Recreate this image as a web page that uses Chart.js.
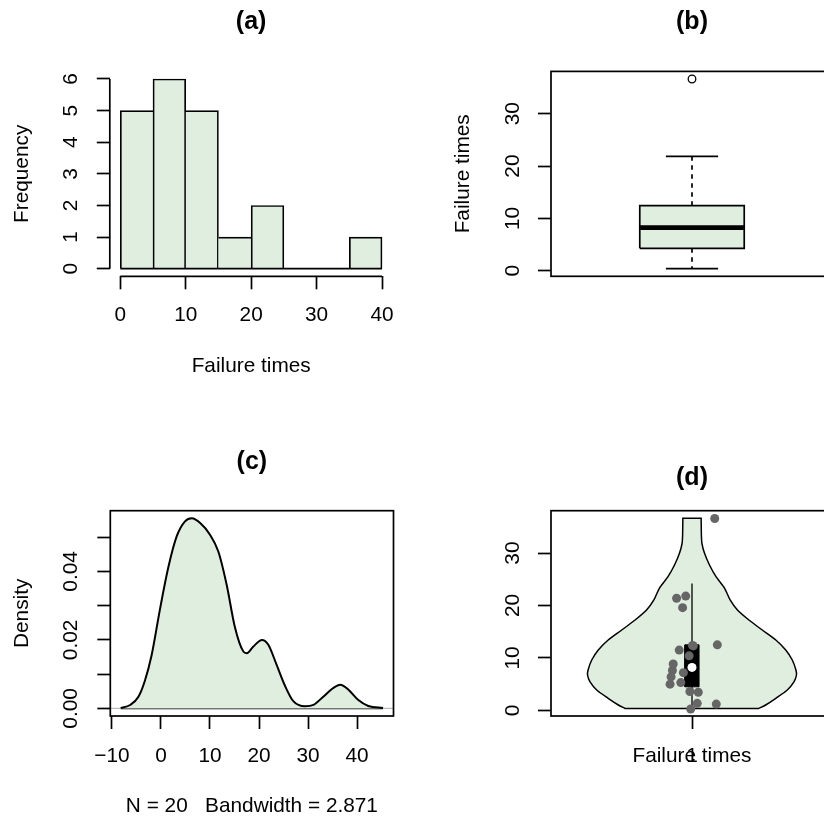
<!DOCTYPE html>
<html lang="en">
<head>
<meta charset="utf-8">
<title>Failure times</title>
<script src="https://cdn.jsdelivr.net/npm/chart.js@4.4.1/dist/chart.umd.min.js"></script>
<style>
  html, body { margin: 0; padding: 0; background: #ffffff; overflow: hidden; }
  body { position: relative; width: 824px; height: 819px; }
  canvas { position: absolute; }
</style>
</head>
<body>
<canvas id="histPanel" width="412" height="410" style="left:0px;top:0px"></canvas>
<canvas id="boxPanel" width="480" height="410" style="left:412px;top:0px"></canvas>
<canvas id="densityPanel" width="412" height="410" style="left:0px;top:409px"></canvas>
<canvas id="violinPanel" width="480" height="410" style="left:412px;top:409px"></canvas>
<script>
// ---------------- data ----------------
// (a) histogram of failure times, 5-unit bins
const binEdges   = [0, 5, 10, 15, 20, 25, 30, 35, 40];
const binCounts  = [5, 6, 5, 1, 2, 0, 0, 1];
const histXTicks = [0, 10, 20, 30, 40];
const histYTicks = [0, 1, 2, 3, 4, 5, 6];

// (b) box plot summary: lower whisker, lower hinge, median, upper hinge, upper whisker
const boxStats    = [0.38, 4.28, 8.22, 12.43, 21.87];
const boxOutliers = [36.65];
const timeTicks   = [0, 10, 20, 30];

// (c) kernel density estimate
const densityX = [-8.2, -6.3, -4.6, -3.3, -1.9, -0.2, 1.5, 3.2, 4.9, 6.3, 8.0, 10.0, 11.7, 13.4, 15.1, 16.8,
                  17.5, 18.8, 20.6, 21.9, 23.6, 25.3, 27.0, 29.4, 31.1, 33.1, 35.2, 36.6, 38.2, 40.2, 42.3, 45.3];
const densityY = [0.0001, 0.0010, 0.0034, 0.0080, 0.0156, 0.0290, 0.0412, 0.0502, 0.0546, 0.0555, 0.0541,
                  0.0507, 0.0458, 0.0361, 0.0236, 0.0166, 0.0161, 0.0180, 0.0200, 0.0186, 0.0127, 0.0066,
                  0.0021, 0.0006, 0.0010, 0.0034, 0.0060, 0.0069, 0.0055, 0.0025, 0.0007, 0.0001];
const densityXTicks  = [-10, 0, 10, 20, 30, 40];
const densityYTicks  = [0, 0.01, 0.02, 0.03, 0.04, 0.05];
const densityYLabels = ['0.00', '', '0.02', '', '0.04', ''];
const densityNote    = 'N = 20   Bandwidth = 2.871';

// (d) violin: failure time and half width of the violin at that time
const violinAt = [0.38, 1.03, 2.31, 3.89, 5.47, 6.75, 7.71, 9.61, 11.52, 13.43, 15.33,
                  17.24, 19.15, 21.06, 23.29, 25.50, 27.73, 29.96, 31.87, 33.45, 36.64];
const violinHalfWidth = [0.257, 0.282, 0.321, 0.365, 0.391, 0.400, 0.398, 0.384, 0.359, 0.321, 0.269,
                         0.218, 0.174, 0.146, 0.125, 0.092, 0.067, 0.048, 0.038, 0.036, 0.035];
const violinQuartiles = [4.5, 12.5];
const violinMedian    = 8.2;
const violinWhiskers  = [0.38, 24.2];
const violinXTicks    = [1];

// individual failure times and their horizontal jitter
const failureTimes = [36.6, 21.4, 21.8, 19.6, 12.5, 12.3, 12.4, 11.5, 10.4, 8.85,
                      7.6, 7.2, 6.4, 5.0, 5.3, 3.6, 3.45, 1.35, 1.2, 0.27];
const jitterX      = [1.087, 0.941, 0.976, 0.964, 1.097, 1.005, 1.002, 0.951, 0.989, 0.928,
                      0.925, 0.967, 0.920, 0.916, 0.957, 0.992, 1.024, 1.020, 1.093, 0.995];

// ---------------- styling ----------------
const FONT_FAMILY = '"Liberation Sans", Arial, Helvetica, sans-serif';
const FONT_SIZE = 20.8;
const TITLE_SIZE = 25;
const LINE_H = FONT_SIZE * 1.2;
const TICK_LEN = 13;
const LINE_W = 1.7;
const FILL = '#E0EEE0';
const INK = '#000000';
const POINT_GREY = '#666666';

Chart.defaults.font.family = FONT_FAMILY;
Chart.defaults.font.size = FONT_SIZE;
Chart.defaults.color = INK;
Chart.defaults.animation = false;
Chart.defaults.responsive = false;
Chart.defaults.events = [];
Chart.defaults.plugins.legend.display = false;
Chart.defaults.plugins.tooltip.enabled = false;

const measure = document.createElement('canvas').getContext('2d');
function widestLabel(labels) {
  measure.font = FONT_SIZE + 'px ' + FONT_FAMILY;
  return Math.max(...labels.map(l => measure.measureText(l).width));
}
// R-style axis range: data range widened by 4% on each side
function extend4(lo, hi) {
  const d = 0.04 * (hi - lo);
  return [lo - d, hi + d];
}
const fmt = v => String(v).replace('-', '\u2212');

function tickGrid() {
  return { display: true, drawOnChartArea: false, drawTicks: true, tickLength: TICK_LEN,
           tickWidth: LINE_W, tickColor: INK, offset: false };
}

function leftAxis(o) {
  return {
    type: 'linear', position: 'left', min: o.range[0], max: o.range[1], bounds: 'data',
    afterFit: s => { s.width = o.width; },
    afterBuildTicks: s => { s.ticks = o.ticks.map(v => ({ value: v })); },
    border: { display: false },
    grid: tickGrid(),
    ticks: {
      autoSkip: false, minRotation: 90, maxRotation: 90, crossAlign: 'center',
      padding: o.labelOffset - TICK_LEN - widestLabel(o.labels) / 2,
      callback: (v, i) => o.labels[i]
    },
    title: o.title
      ? { display: true, text: o.title, padding: { top: o.titleOffset - LINE_H / 2, bottom: 0 } }
      : { display: false }
  };
}

function bottomAxis(o) {
  return {
    type: 'linear', position: 'bottom', min: o.range[0], max: o.range[1], bounds: 'data', offset: false,
    afterFit: s => { s.height = o.height; },
    afterBuildTicks: s => { s.ticks = o.ticks.map(v => ({ value: v })); },
    border: { display: false },
    grid: tickGrid(),
    ticks: {
      autoSkip: false, minRotation: 0, maxRotation: 0,
      padding: o.labelOffset - TICK_LEN - LINE_H / 2,
      callback: (v, i) => o.labels[i]
    },
    title: { display: true, text: o.title,
             padding: { top: 0, bottom: Math.max(0, o.titleOffset - LINE_H / 2) } }
  };
}

function panelTitle(text, centerY, areaTop) {
  const lh = TITLE_SIZE * 1.2;
  const top = centerY - lh / 2;
  return { display: true, text, fullSize: false, color: INK,
           font: { size: TITLE_SIZE, weight: 'bold' },
           padding: { top, bottom: areaTop - top - lh } };
}

// box drawn round the plotting region
const plotFrame = {
  id: 'plotFrame',
  afterDatasetsDraw(chart) {
    const { ctx, chartArea: a } = chart;
    ctx.save();
    ctx.strokeStyle = INK;
    ctx.lineWidth = LINE_W;
    ctx.strokeRect(a.left, a.top, a.right - a.left, a.bottom - a.top);
    ctx.restore();
  }
};

// axis lines that run only from the first to the last tick
const tickSpanAxes = {
  id: 'tickSpanAxes',
  afterDraw(chart) {
    const { ctx, chartArea: a, scales: { x, y } } = chart;
    const px = v => x.getPixelForValue(v), py = v => y.getPixelForValue(v);
    ctx.save();
    ctx.strokeStyle = INK;
    ctx.lineWidth = LINE_W;
    ctx.beginPath();
    ctx.moveTo(px(x.ticks[0].value), a.bottom);
    ctx.lineTo(px(x.ticks[x.ticks.length - 1].value), a.bottom);
    ctx.moveTo(a.left, py(y.ticks[0].value));
    ctx.lineTo(a.left, py(y.ticks[y.ticks.length - 1].value));
    ctx.stroke();
    ctx.restore();
  }
};

const segment = { showLine: true, pointRadius: 0, borderColor: INK, borderWidth: LINE_W, fill: false };
const line2 = (x0, y0, x1, y1) => [{ x: x0, y: y0 }, { x: x1, y: y1 }];
const rectPath = (x0, x1, y0, y1) =>
  [{ x: x0, y: y0 }, { x: x1, y: y0 }, { x: x1, y: y1 }, { x: x0, y: y1 }, { x: x0, y: y0 }];

// ---------------- (a) histogram ----------------
const histMids = binCounts.map((_, i) => (binEdges[i] + binEdges[i + 1]) / 2);
new Chart(document.getElementById('histPanel'), {
  type: 'bar',
  data: {
    datasets: [
      { type: 'line', ...segment,
        data: line2(binEdges[0], 0, binEdges[binEdges.length - 1], 0), order: 0 },
      { type: 'bar', order: 1,
        data: binCounts.map((c, i) => ({ x: histMids[i], y: c })),
        backgroundColor: FILL, borderColor: INK, borderSkipped: false,
        barPercentage: 1, categoryPercentage: 1,
        // a shared edge is drawn once, by the taller of the two neighbouring bars
        borderWidth: ctx => {
          if (ctx.type !== 'data') return LINE_W;
          const i = ctx.dataIndex, c = binCounts[i];
          return {
            top: LINE_W, bottom: 0,
            left: (i > 0 && binCounts[i - 1] >= c) ? 0 : LINE_W,
            right: (i < binCounts.length - 1 && binCounts[i + 1] > c) ? 0 : LINE_W
          };
        } }
    ]
  },
  options: {
    devicePixelRatio: 1,
    layout: { padding: { left: 0, top: 0, right: 19.5, bottom: 0 } },
    plugins: { title: panelTitle('(a)', 21.7, 71.4) },
    scales: {
      x: bottomAxis({ range: extend4(binEdges[0], binEdges[binEdges.length - 1]),
                      ticks: histXTicks, labels: histXTicks.map(fmt),
                      height: 410 - 276.3, labelOffset: 39.4,
                      title: 'Failure times', titleOffset: 410 - 366.7 }),
      y: leftAxis({ range: extend4(0, Math.max(...binCounts)),
                    ticks: histYTicks, labels: histYTicks.map(fmt),
                    width: 109.8, labelOffset: 109.8 - 71.7,
                    title: 'Frequency', titleOffset: 22.7 })
    }
  },
  plugins: [tickSpanAxes]
});

// ---------------- (b) box plot ----------------
const [lowW, lowH, med, upH, highW] = boxStats;
const BOX_HALF = 0.2, CAP_HALF = 0.1;
new Chart(document.getElementById('boxPanel'), {
  type: 'scatter',
  data: {
    datasets: [
      { ...segment, showLine: false, order: 0,
        data: boxOutliers.map(v => ({ x: 1, y: v })),
        pointRadius: 3.8, pointBackgroundColor: 'rgba(0,0,0,0)',
        pointBorderColor: INK, pointBorderWidth: 1.3 },
      { ...segment, order: 1, borderWidth: 4.7, data: line2(1 - BOX_HALF, med, 1 + BOX_HALF, med) },
      { ...segment, order: 2, fill: 'shape', backgroundColor: FILL, borderJoinStyle: 'miter',
        data: rectPath(1 - BOX_HALF, 1 + BOX_HALF, lowH, upH) },
      { ...segment, order: 3, borderDash: [4.5, 4.5], data: line2(1, upH, 1, highW) },
      { ...segment, order: 3, borderDash: [4.5, 4.5], data: line2(1, lowH, 1, lowW) },
      { ...segment, order: 3, data: line2(1 - CAP_HALF, highW, 1 + CAP_HALF, highW) },
      { ...segment, order: 3, data: line2(1 - CAP_HALF, lowW, 1 + CAP_HALF, lowW) }
    ]
  },
  options: {
    devicePixelRatio: 1,
    layout: { padding: { left: 0, top: 0, right: 59, bottom: 410 - 276.3 } },
    plugins: { title: panelTitle('(b)', 21.7, 71.4) },
    scales: {
      x: { type: 'linear', display: false, min: extend4(0.5, 1.5)[0], max: extend4(0.5, 1.5)[1] },
      y: leftAxis({ range: extend4(lowW, Math.max(highW, ...boxOutliers)),
                    ticks: timeTicks, labels: timeTicks.map(fmt),
                    width: 139, labelOffset: 139 - 101.7,
                    title: 'Failure times', titleOffset: 51.7 })
    }
  },
  plugins: [plotFrame]
});

// ---------------- (c) density ----------------
const densityRange = extend4(densityX[0], densityX[densityX.length - 1]);
new Chart(document.getElementById('densityPanel'), {
  type: 'scatter',
  data: {
    datasets: [
      { ...segment, order: 1, borderWidth: 2,
        data: densityX.map((x, i) => ({ x, y: densityY[i] })),
        fill: 'origin', backgroundColor: FILL, cubicInterpolationMode: 'monotone' },
      { ...segment, order: 2,
        data: line2(densityX[0], 0, densityX[densityX.length - 1], 0) },
      { ...segment, order: 3, borderColor: '#BEBEBE', borderWidth: 1.3,
        data: line2(densityRange[0], 0, densityRange[1], 0) }
    ]
  },
  options: {
    devicePixelRatio: 1,
    layout: { padding: { left: 0, top: 0, right: 18.5, bottom: 0 } },
    plugins: { title: panelTitle('(c)', 52.7, 101.7) },
    scales: {
      x: bottomAxis({ range: densityRange,
                      ticks: densityXTicks, labels: densityXTicks.map(fmt),
                      height: 103, labelOffset: 40.7,
                      title: densityNote, titleOffset: 12.3 }),
      y: leftAxis({ range: extend4(0, Math.max(...densityY)),
                    ticks: densityYTicks, labels: densityYLabels,
                    width: 110.3, labelOffset: 110.3 - 71.7,
                    title: 'Density', titleOffset: 22.7 })
    }
  },
  plugins: [plotFrame]
});

// ---------------- (d) violin ----------------
const violinRight = violinAt.map((v, i) => ({ x: 1 + violinHalfWidth[i], y: v }));
const violinLeft  = violinAt.map((v, i) => ({ x: 1 - violinHalfWidth[i], y: v })).reverse();
const nV = violinAt.length;
// outline: right side upwards, flat top, left side downwards, flat bottom;
// each corner point is repeated so the smoothed curve keeps a sharp corner there
const violinOutline = [
  ...violinRight, violinRight[nV - 1],
  violinLeft[0], ...violinLeft, violinLeft[nV - 1],
  violinRight[0]
];
const INNER_HALF = 0.027;
new Chart(document.getElementById('violinPanel'), {
  type: 'scatter',
  data: {
    datasets: [
      { ...segment, showLine: false, order: 0,
        data: failureTimes.map((v, i) => ({ x: jitterX[i], y: v })),
        pointRadius: 4.5, pointBackgroundColor: POINT_GREY, pointBorderWidth: 0 },
      { ...segment, showLine: false, order: 1,
        data: [{ x: 1, y: violinMedian }],
        pointRadius: 4.5, pointBackgroundColor: '#ffffff', pointBorderWidth: 0 },
      { ...segment, order: 2, fill: 'shape', backgroundColor: INK, borderWidth: 1,
        data: rectPath(1 - INNER_HALF, 1 + INNER_HALF, violinQuartiles[0], violinQuartiles[1]) },
      { ...segment, order: 3, borderWidth: 1.3,
        data: line2(1, violinWhiskers[0], 1, violinWhiskers[1]) },
      { ...segment, order: 4, fill: 'shape', backgroundColor: FILL, borderWidth: 1.5, tension: 0.25,
        data: violinOutline }
    ]
  },
  options: {
    devicePixelRatio: 1,
    layout: { padding: { left: 0, top: 0, right: 59, bottom: 0 } },
    plugins: { title: panelTitle('(d)', 69.3, 101.7) },
    scales: {
      x: bottomAxis({ range: extend4(0.5, 1.5),
                      ticks: violinXTicks, labels: violinXTicks.map(fmt),
                      height: 103, labelOffset: 40,
                      title: 'Failure times', titleOffset: 63 }),
      y: leftAxis({ range: extend4(violinAt[0], violinAt[nV - 1]),
                    ticks: timeTicks, labels: timeTicks.map(fmt),
                    width: 139, labelOffset: 139 - 101.7 })
    }
  },
  plugins: [plotFrame]
});
</script>
</body>
</html>
